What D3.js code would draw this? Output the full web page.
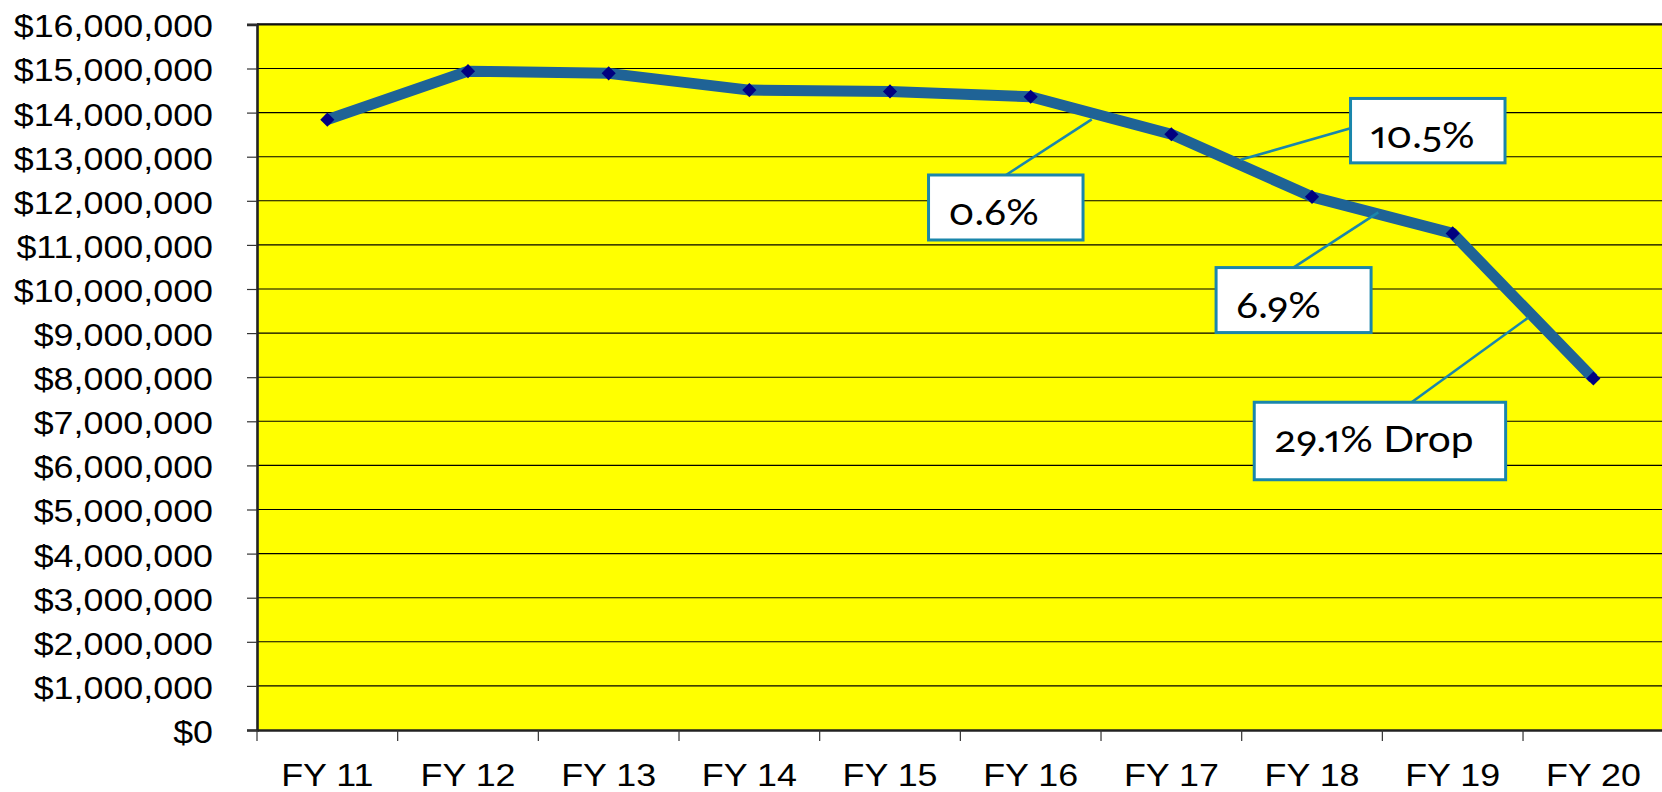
<!DOCTYPE html>
<html>
<head>
<meta charset="utf-8">
<script src="https://cdn.jsdelivr.net/npm/d3@7"></script>
<style>
  html, body { margin: 0; padding: 0; background: #ffffff; overflow: hidden; }
  svg { display: block; }
</style>
</head>
<body>
<svg id="chart" width="1662" height="792"></svg>
<script>
// ---------- data ----------
const categories = ["FY 11", "FY 12", "FY 13", "FY 14", "FY 15", "FY 16", "FY 17", "FY 18", "FY 19", "FY 20"];
const values = [13840000, 14940000, 14890000, 14510000, 14480000, 14360000, 13510000, 12090000, 11260000, 7970000];
const yTickValues = [0, 1000000, 2000000, 3000000, 4000000, 5000000, 6000000, 7000000, 8000000,
                     9000000, 10000000, 11000000, 12000000, 13000000, 14000000, 15000000, 16000000];
const calloutLabels = ["0.6%", "10.5%", "6.9%", "29.1% Drop"];
const calloutSegmentStart = ["FY 16", "FY 17", "FY 18", "FY 19"];

// ---------- layout ----------
const W = 1662, H = 792;
const plot = { left: 257, right: 1663.7, top: 24.4, bottom: 730 };
const textStretch = 1.12;
// callout layout: position along segment (t), offset from line (dy), box offset from anchor, leader start on box
const calloutLayout = [
  { t: 0.434, dy: 6.3,  bx: -163.2, by: 55.7,  bw: 154.5, bh: 65,   lx: 77.5,  ly: 0 },
  { t: 0.491, dy: -5.1, bx: 110.1,  by: -61.4, bw: 154.5, bh: 64.4, lx: 0,     ly: 29.8 },
  { t: 0.471, dy: -1.7, bx: -162.2, by: 55.2,  bw: 155,   bh: 65,   lx: 77.3,  ly: 0 },
  { t: 0.537, dy: 6.3,  bx: -274,   by: 84.6,  bw: 251.4, bh: 77.5, lx: 157.4, ly: 0 }
];

const svg = d3.select("#chart");

const x = d3.scaleBand().domain(categories).range([plot.left, plot.right]).padding(0);
const y = d3.scaleLinear().domain([0, 16000000]).range([plot.bottom, plot.top]);
const cx = c => x(c) + x.bandwidth() / 2;

// plot background
svg.append("rect")
  .attr("x", plot.left).attr("y", plot.top)
  .attr("width", plot.right - plot.left).attr("height", plot.bottom - plot.top)
  .attr("fill", "#FFFF00");

// gridlines
svg.append("g").selectAll("line")
  .data(yTickValues.filter(v => v > 0))
  .join("line")
  .attr("x1", plot.left).attr("x2", plot.right)
  .attr("y1", d => y(d)).attr("y2", d => y(d))
  .attr("stroke", "#000").attr("stroke-width", 1.1);

// top border
svg.append("line")
  .attr("x1", plot.left).attr("x2", plot.right)
  .attr("y1", plot.top).attr("y2", plot.top)
  .attr("stroke", "#111").attr("stroke-width", 2.4);

// y axis
const yAxis = svg.append("g")
  .attr("transform", `translate(${plot.left},0)`)
  .call(d3.axisLeft(y).tickValues(yTickValues).tickSize(10).tickPadding(34)
        .tickFormat(d => "$" + d3.format(",")(d)));
yAxis.select(".domain").attr("stroke", "#222").attr("stroke-width", 2.6);
yAxis.selectAll(".tick line").attr("stroke", "#333").attr("stroke-width", 1.2);
yAxis.selectAll(".tick text")
  .attr("font-family", "'Liberation Sans', Arial, sans-serif")
  .attr("font-size", 32)
  .attr("fill", "#000")
  .attr("dy", "0.39em")
  .attr("x", -44 / textStretch)
  .attr("transform", `scale(${textStretch},1)`);

// x axis (labels at category centres)
const xAxis = svg.append("g")
  .attr("transform", `translate(0,${plot.bottom})`)
  .call(d3.axisBottom(x).tickSize(0).tickPadding(33));
xAxis.select(".domain").attr("stroke", "#222").attr("stroke-width", 2.6);
xAxis.selectAll(".tick text")
  .attr("font-family", "'Liberation Sans', Arial, sans-serif")
  .attr("font-size", 32)
  .attr("fill", "#000")
  .attr("transform", `scale(${textStretch},1)`);

// x boundary ticks
svg.append("g").selectAll("line")
  .data(categories)
  .join("line")
  .attr("x1", d => x(d)).attr("x2", d => x(d))
  .attr("y1", plot.bottom).attr("y2", plot.bottom + 11)
  .attr("stroke", "#333").attr("stroke-width", 1.2);

// series line
const pts = categories.map((c, i) => ({ c, v: values[i] }));
svg.append("path")
  .datum(pts)
  .attr("fill", "none")
  .attr("stroke", "#1F6396")
  .attr("stroke-width", 11)
  .attr("stroke-linejoin", "round")
  .attr("d", d3.line().x(d => cx(d.c)).y(d => y(d.v)));

// markers
svg.append("g").selectAll("path")
  .data(pts)
  .join("path")
  .attr("transform", d => `translate(${cx(d.c)},${y(d.v)}) rotate(45)`)
  .attr("d", d3.symbol(d3.symbolSquare, 100)())
  .attr("fill", "#000080");

// callouts
const step = x.step();
calloutLabels.forEach((label, k) => {
  const L = calloutLayout[k];
  const i = categories.indexOf(calloutSegmentStart[k]);
  const ax = cx(categories[i]) + L.t * step;
  const ay = y(values[i] + L.t * (values[i + 1] - values[i])) + L.dy;
  const bx = ax + L.bx, by = ay + L.by;
  svg.append("line")
    .attr("x1", bx + L.lx).attr("y1", by + L.ly)
    .attr("x2", ax).attr("y2", ay)
    .attr("stroke", "#1A86AB").attr("stroke-width", 2.6);
  svg.append("rect")
    .attr("x", bx).attr("y", by).attr("width", L.bw).attr("height", L.bh)
    .attr("fill", "#fff").attr("stroke", "#1A86AB").attr("stroke-width", 3);
  svg.append("text")
    .attr("transform", `translate(${bx + 20},${by + 50}) scale(1.1,1)`)
    .attr("font-family", "Lato, 'Open Sans', sans-serif")
    .attr("font-size", 37)
    .style("font-variant-numeric", "oldstyle-nums")
    .style("font-feature-settings", "'onum' 1, 'pnum' 1")
    .attr("fill", "#000")
    .text(label);
});
</script>
</body>
</html>
